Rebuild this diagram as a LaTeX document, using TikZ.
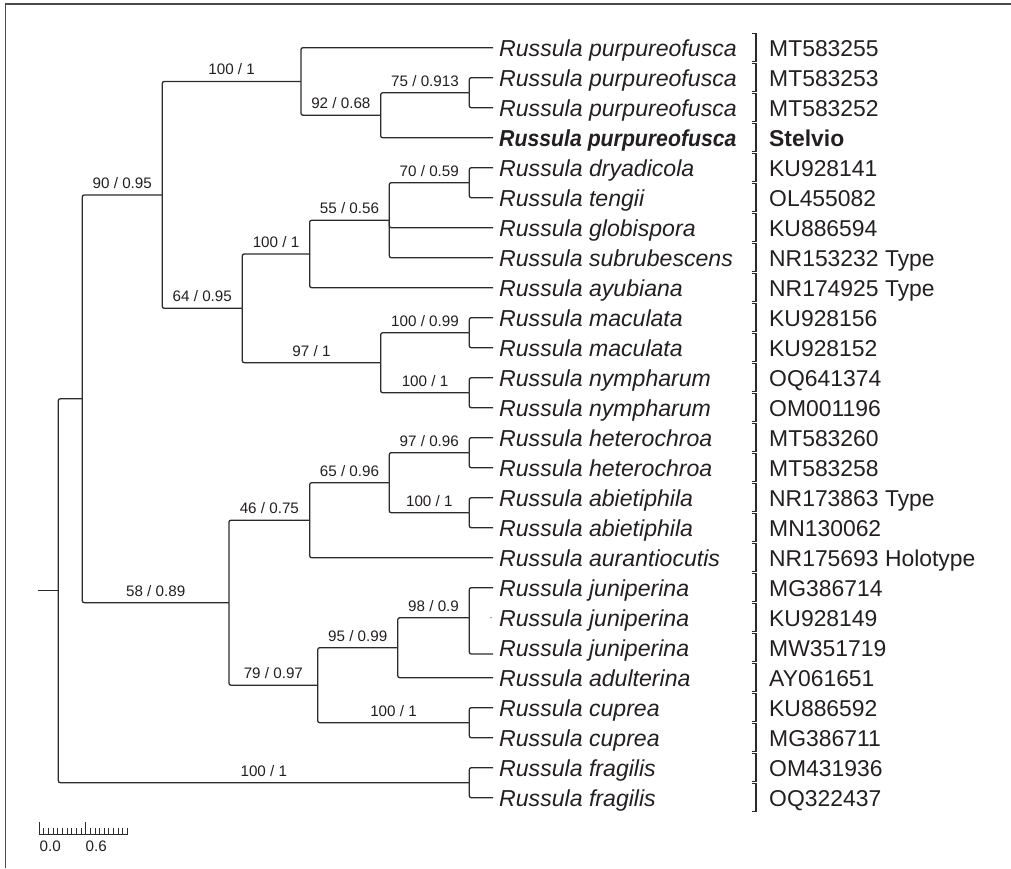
\documentclass[tikz,border=0pt]{standalone}
\usepackage{fontspec}
\setmainfont{Liberation Sans}
\usetikzlibrary{calc}
\definecolor{linec}{HTML}{2B2B2B}
\definecolor{txtc}{HTML}{231F20}
\definecolor{framec}{HTML}{4A4A4A}
\tikzset{
  br/.style={draw=linec,line width=1.3pt,rounded corners=2pt},
  brk/.style={draw=linec,line width=1.2pt},
  lbl/.style={anchor=base,inner sep=0pt,text=txtc,font=\fontsize{15.2}{17}\selectfont},
  taxon/.style={anchor=base west,inner sep=0pt,text=txtc,xshift=6pt,yshift=-9pt,font=\fontsize{23.1}{26}\selectfont},
  accn/.style={anchor=base west,inner sep=0pt,text=txtc,font=\fontsize{22.9}{26}\selectfont},
  sbl/.style={anchor=base west,inner sep=0pt,text=txtc,font=\fontsize{15.2}{17}\selectfont}
}
\newcommand\brlab[3]{\node[lbl] (lab-#2) at ($(#1 |- #2)!0.5!(#2)+(0,-6.5)$) {#3};}
\begin{document}
\begin{tikzpicture}[x=1pt,y=-1pt]
\useasboundingbox (0,0) rectangle (1011,868);
% frame
\draw[framec,line width=1.5pt] (5.7,868) -- (5.7,4) -- (1011,4);
% tips, names, accessions, brackets
\foreach \i/\sp/\acc in {0/purpureofusca/MT583255,1/purpureofusca/MT583253,2/purpureofusca/MT583252,
  4/dryadicola/KU928141,5/tengii/OL455082,6/globispora/KU886594,7/subrubescens/NR153232 Type,
  8/ayubiana/NR174925 Type,9/maculata/KU928156,10/maculata/KU928152,11/nympharum/OQ641374,
  12/nympharum/OM001196,13/heterochroa/MT583260,14/heterochroa/MT583258,15/abietiphila/NR173863 Type,
  16/abietiphila/MN130062,17/aurantiocutis/NR175693 Holotype,18/juniperina/MG386714,19/juniperina/KU928149,
  20/juniperina/MW351719,21/adulterina/AY061651,22/cuprea/KU886592,23/cuprea/MG386711,
  24/fragilis/OM431936,25/fragilis/OQ322437}{
  \pgfmathsetmacro\yy{47.7+30*\i}
  \coordinate (t\i) at (493,\yy);
  \node[taxon] (name\i) at (t\i) {\itshape Russula \sp};
  \node[accn] (acc\i) at (769,\yy+9) {\acc};
  \draw[brk] (751.5,\yy-14.5) -- (756,\yy-14.5) -- (756,\yy+14) -- (751.5,\yy+14);
}
\coordinate (t3) at (493,137.7);
\node[taxon] (name3) at (t3) {\scalebox{0.92}[1]{\bfseries\itshape Russula purpureofusca}};
\node[accn] (acc3) at (769,146.7) {\bfseries Stelvio};
\draw[brk] (751.5,123.2) -- (756,123.2) -- (756,151.7) -- (751.5,151.7);
\coordinate (t20a) at (493,654);
% internal nodes
\coordinate (nD) at (469.3,92.7);
\coordinate (nC) at (380.7,115.2);
\coordinate (nB) at (301,81.45);
\coordinate (nH) at (469.3,182.7);
\coordinate (nG) at (389.3,220.2);
\coordinate (nF) at (309.7,253.95);
\coordinate (nJ) at (469.3,332.7);
\coordinate (nK) at (469.3,392.7);
\coordinate (nI) at (380.7,362.7);
\coordinate (nE) at (242.3,308.3);
\coordinate (nA) at (162.3,194.9);
\coordinate (nO) at (469.3,452.7);
\coordinate (nP) at (469.3,512.7);
\coordinate (nN) at (389.3,482.7);
\coordinate (nM) at (309.7,520.2);
\coordinate (nS) at (469.3,617.7);
\coordinate (nR) at (397.8,647.7);
\coordinate (nT) at (469.3,722.7);
\coordinate (nQ) at (317.7,685.2);
\coordinate (nL) at (229,602.7);
\coordinate (nV) at (82.3,398.8);
\coordinate (nU) at (469.3,782.7);
\coordinate (root) at (58.3,590.75);
\coordinate (stub) at (37.7,590.75);
% branches
\draw[br] (stub) -- (root);
\draw[br] (root) |- (nV); \draw[br] (root) |- (nU);
\draw[br] (nV) |- (nA); \draw[br] (nV) |- (nL);
\draw[br] (nA) |- (nB); \draw[br] (nA) |- (nE);
\draw[br] (nB) |- (t0); \draw[br] (nB) |- (nC);
\draw[br] (nC) |- (nD); \draw[br] (nC) |- (t3);
\draw[br] (nD) |- (t1); \draw[br] (nD) |- (t2);
\draw[br] (nE) |- (nF); \draw[br] (nE) |- (nI);
\draw[br] (nF) |- (nG); \draw[br] (nF) |- (t8);
\draw[br] (nG) |- (nH); \draw[br] (nG) |- (t6); \draw[br] (nG) |- (t7);
\draw[br] (nH) |- (t4); \draw[br] (nH) |- (t5);
\draw[br] (nI) |- (nJ); \draw[br] (nI) |- (nK);
\draw[br] (nJ) |- (t9); \draw[br] (nJ) |- (t10);
\draw[br] (nK) |- (t11); \draw[br] (nK) |- (t12);
\draw[br] (nL) |- (nM); \draw[br] (nL) |- (nQ);
\draw[br] (nM) |- (nN); \draw[br] (nM) |- (t17);
\draw[br] (nN) |- (nO); \draw[br] (nN) |- (nP);
\draw[br] (nO) |- (t13); \draw[br] (nO) |- (t14);
\draw[br] (nP) |- (t15); \draw[br] (nP) |- (t16);
\draw[br] (nQ) |- (nR); \draw[br] (nQ) |- (nT);
\draw[br] (nR) |- (nS); \draw[br] (nR) |- (t21);
\draw[br] (nS) |- (t18); \draw[br] (nS) |- (t20a);
\draw[br] (nT) |- (t22); \draw[br] (nT) |- (t23);
\draw[br] (nU) |- (t24); \draw[br] (nU) |- (t25);
\fill[linec] (491,617.7) circle (0.7pt);
% support labels
\brlab{nV}{nA}{90 / 0.95}
\brlab{nA}{nB}{100 / 1}
\brlab{nB}{nC}{92 / 0.68}
\brlab{nC}{nD}{75 / 0.913}
\brlab{nA}{nE}{64 / 0.95}
\brlab{nE}{nF}{100 / 1}
\brlab{nF}{nG}{55 / 0.56}
\brlab{nG}{nH}{70 / 0.59}
\brlab{nE}{nI}{97 / 1}
\brlab{nI}{nJ}{100 / 0.99}
\brlab{nI}{nK}{100 / 1}
\brlab{nV}{nL}{58 / 0.89}
\brlab{nL}{nM}{46 / 0.75}
\brlab{nM}{nN}{65 / 0.96}
\brlab{nN}{nO}{97 / 0.96}
\brlab{nN}{nP}{100 / 1}
\brlab{nL}{nQ}{79 / 0.97}
\brlab{nQ}{nR}{95 / 0.99}
\brlab{nR}{nS}{98 / 0.9}
\brlab{nQ}{nT}{100 / 1}
\brlab{root}{nU}{100 / 1}
% scale bar
\draw[linec,line width=1pt] (39.3,834.3) -- (128.3,834.3);
\draw[linec,line width=1pt] (39.3,834.3) -- (39.3,821.7);
\draw[linec,line width=1pt] (85.7,834.3) -- (85.7,821.7);
\foreach \k in {1,...,9,11,12,...,19}{
  \draw[linec,line width=0.9pt] (39.3+4.64*\k,834.3) -- (39.3+4.64*\k,828);
}
\node[sbl] (s0) at (39.5,851) {0.0};
\node[sbl] (s6) at (85.5,851) {0.6};
\end{tikzpicture}
\end{document}
